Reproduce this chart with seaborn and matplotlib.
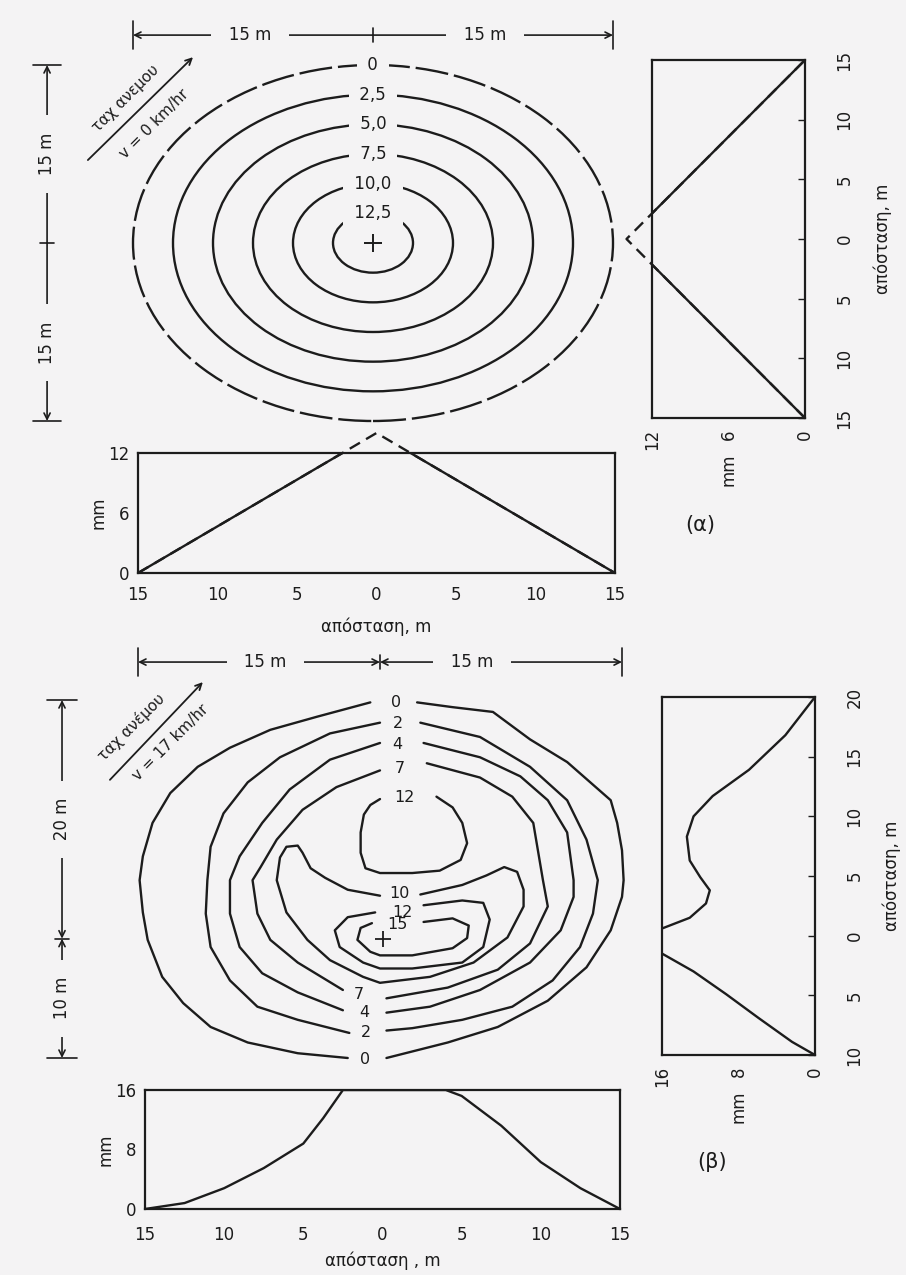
import numpy as np
import matplotlib
matplotlib.use("Agg")
import matplotlib.pyplot as plt
from matplotlib.patches import Circle
from matplotlib.transforms import blended_transform_factory as blend
import seaborn as sns

nan = np.nan

# ---------------- (α) wind speed v = 0 km/hr ----------------
a_ring_labels = ['0', '2,5', '5,0', '7,5', '10,0', '12,5']
a_ring_radius = [15, 12.5, 10, 7.5, 5, 2.5]          # m
a_prof_dist = [-15, 0, 15]                            # m
a_prof_mm = [0, 14, 0]                                # mm
a_dist_ticks = [-15, -10, -5, 0, 5, 10, 15]
a_dist_labels = ['15', '10', '5', '0', '5', '10', '15']
a_mm_ticks = [0, 6, 12]

# ---------------- (β) wind speed v = 17 km/hr ----------------
# contour lines (x, y in m), nan = gap at a label
b_c0_x = [2.3, 4.5, 7.0, 9.3, 11.6, 14.3, 14.7, 15.0, 15.1, 15.0, 14.3, 12.8, 10.4, 7.3, 4.2, 0.4, nan,
          -2.0, -5.1, -8.2, -10.5, -12.2, -13.5, -14.4, -14.7, -14.9, -14.7, -14.1, -13.0, -11.3, -9.3,
          -6.8, -3.9, -0.6]
b_c0_y = [19.8, 19.4, 19.0, 16.7, 14.8, 11.6, 9.7, 7.4, 4.9, 3.5, 0.7, -2.4, -5.2, -7.4, -8.7, -10.0, nan,
          -10.0, -9.6, -8.7, -7.4, -5.4, -3.2, -0.1, 2.2, 4.9, 6.9, 9.7, 12.2, 14.4, 16.0,
          17.5, 18.6, 19.8]
b_c2_x = [2.5, 6.2, 9.3, 11.6, 12.8, 13.5, 13.2, 12.4, 10.7, 8.2, 5.1, 2.0, 0.4, nan,
          -1.9, -5.1, -7.6, -9.3, -10.5, -10.8, -10.7, -10.5, -9.7, -8.2, -6.2, -3.1, 0.0]
b_c2_y = [18.1, 16.9, 14.4, 11.6, 8.3, 4.9, 2.1, -0.7, -3.5, -5.7, -6.8, -7.5, -7.7, nan,
          -7.9, -6.8, -5.7, -3.5, -0.7, 2.1, 4.9, 7.7, 10.5, 13.1, 15.2, 17.2, 18.1]
b_c4_x = [2.7, 6.2, 8.7, 10.4, 11.6, 12.0, 12.0, 11.2, 9.3, 6.2, 3.1, 0.4, nan,
          -2.3, -5.1, -7.3, -8.7, -9.3, -9.3, -8.7, -7.3, -5.6, -3.1, 0.0]
b_c4_y = [16.4, 15.2, 13.6, 11.6, 8.9, 4.9, 3.5, 0.7, -2.0, -4.3, -5.7, -6.2, nan,
          -6.0, -4.5, -2.9, -0.7, 2.1, 4.9, 6.9, 9.7, 12.5, 15.0, 16.4]
b_c7_x = [2.9, 6.2, 8.2, 9.5, 10.1, 10.4, 9.3, 7.3, 4.2, 0.4, nan,
          -2.3, -5.1, -6.8, -7.6, -7.9, -7.4, -6.4, -4.8, -2.7, 0.0]
b_c7_y = [14.7, 13.5, 11.9, 9.7, 4.9, 2.7, -0.4, -2.6, -4.1, -5.0, nan,
          -4.3, -2.0, -0.1, 2.1, 4.9, 6.0, 8.3, 10.8, 12.7, 14.1]
b_c10_x = [2.5, 5.1, 6.6, 7.7, 8.5, 8.9, 8.9, 7.9, 5.8, 3.1, 0.0, -1.05, -3.1, -4.5, -5.8, -6.4,
           -6.2, -5.8, -5.1, -4.8, -4.3, -3.4, -2.0, 0.0]
b_c10_y = [3.7, 4.5, 5.3, 6.0, 5.6, 4.1, 2.7, 0.1, -2.0, -3.2, -3.7, -3.2, -1.8, -0.1, 2.2, 4.9,
           6.8, 7.7, 7.8, 7.2, 5.9, 5.1, 4.1, 3.6]
b_c12u_x = [3.5, 4.5, 5.1, 5.4, 5.0, 3.7, 2.0, 0.0, -0.9, -1.2, -1.2, -1.0, -0.6, 0.0]
b_c12u_y = [11.9, 11.0, 9.7, 8.0, 6.6, 5.7, 5.5, 5.5, 5.9, 7.2, 8.9, 10.4, 11.2, 11.7]
b_c12l_x = [2.7, 5.1, 6.4, 6.8, 6.4, 5.1, 2.0, 0.0, -1.05, -2.5, -2.8, -2.0, -0.3]
b_c12l_y = [2.8, 3.2, 3.0, 1.6, -0.7, -2.0, -2.5, -2.5, -2.0, -0.7, 0.7, 1.8, 2.2]
b_c15_x = [2.7, 4.5, 5.5, 5.4, 4.5, 2.0, 0.0, -0.6, -1.4, -1.2, -0.5]
b_c15_y = [1.4, 1.7, 1.1, 0.05, -0.8, -1.4, -1.4, -1.1, -0.1, 0.9, 1.3]

b_lab_text = ['0', '2', '4', '7', '7', '4', '2', '0', '12', '10', '12', '15']
b_lab_x = [1.0, 1.1, 1.1, 1.2, -1.3, -1.0, -0.9, -0.9, 1.5, 1.2, 1.4, 1.1]
b_lab_y = [19.8, 18.0, 16.3, 14.3, -4.7, -6.2, -7.9, -10.1, 11.8, 3.8, 2.2, 1.15]

b_bot_dist = [-15, -12.5, -10, -7.5, -5, -3.75, -2.5, 4, 5, 6.5, 7.5, 10, 12.5, 15]
b_bot_mm = [0, 0.8, 2.8, 5.5, 8.8, 12.2, 16, 16, 15.2, 12.8, 11.2, 6.3, 2.8, 0]
b_side_up_dist = [20, 16.8, 13.9, 11.7, 10, 8.3, 6.3, 4.9, 3.8, 2.7, 1.5, 0.6]
b_side_up_mm = [0, 3.1, 6.9, 10.7, 12.7, 13.4, 13.1, 12.0, 11.0, 11.4, 13.1, 16]
b_side_lo_dist = [-1.5, -3.0, -4.9, -6.9, -8.9, -10]
b_side_lo_mm = [16, 12.7, 9.3, 5.9, 2.4, 0]
b_dist_ticks_x = [-15, -10, -5, 0, 5, 10, 15]
b_dist_ticks_y = [-10, -5, 0, 5, 10, 15, 20]
b_dist_labels_y = ['10', '5', '0', '5', '10', '15', '20']
b_mm_ticks = [0, 8, 16]

# ---------------- style ----------------
sns.set_theme(style="white")
plt.rcParams['font.family'] = ['DejaVu Sans']
BG = '#f4f3f4'
INK = '#1c1c1c'
LW = 1.7

fig = plt.figure(figsize=(9.06, 12.75), dpi=100, facecolor=BG)


def px_axes(x0, y0, x1, y1):
    ax = fig.add_axes([x0 / 906, 1 - y1 / 1275, (x1 - x0) / 906, (y1 - y0) / 1275])
    ax.set_facecolor('none')
    return ax


def style_box(ax):
    for s in ax.spines.values():
        s.set_visible(True)
        s.set_linewidth(1.6)
        s.set_color(INK)
    ax.tick_params(which='both', direction='in', color=INK, labelcolor=INK, labelsize=12, width=1)
    ax.tick_params(which='major', length=5)
    ax.tick_params(which='minor', length=4)


def dim_line(ax, horizontal, pos, ends, mid, label_at, labels, center_arrows, bar=0.04):
    if horizontal:
        tr = blend(ax.transData, ax.transAxes)
        P = lambda a, b: (a, b)
        rot = 0
    else:
        tr = blend(ax.transAxes, ax.transData)
        P = lambda a, b: (b, a)
        rot = 90
    style = '<->' if center_arrows else '->'
    for end in ends:
        ax.annotate('', xy=P(end, pos), xytext=P(mid, pos), xycoords=tr, textcoords=tr,
                    annotation_clip=False,
                    arrowprops=dict(arrowstyle=style, color=INK, lw=1.2, shrinkA=0, shrinkB=0,
                                    mutation_scale=11))
        a0, a1 = P(end, pos - bar), P(end, pos + bar)
        ax.plot([a0[0], a1[0]], [a0[1], a1[1]], color=INK, lw=1.2, transform=tr, clip_on=False)
    c0, c1 = P(mid, pos - bar * 0.5), P(mid, pos + bar * 0.5)
    ax.plot([c0[0], c1[0]], [c0[1], c1[1]], color=INK, lw=1.2, transform=tr, clip_on=False)
    for at, lab in zip(label_at, labels):
        ax.text(*P(at, pos), '   ' + lab + '   ', transform=tr, rotation=rot, ha='center',
                va='center', fontsize=12, color=INK, zorder=5,
                bbox=dict(boxstyle='square,pad=0.1', fc=BG, ec='none'))


def wind(ax, p0, p1, top_txt, top_at, bot_txt, bot_at):
    ax.annotate('', xy=p1, xytext=p0, xycoords='axes fraction', textcoords='axes fraction',
                annotation_clip=False,
                arrowprops=dict(arrowstyle='->', color=INK, lw=1.3, shrinkA=0, shrinkB=0,
                                mutation_scale=11))
    ax.text(*top_at, top_txt, transform=ax.transAxes, rotation=45, ha='center', va='center',
            fontsize=11, color=INK)
    ax.text(*bot_at, bot_txt, transform=ax.transAxes, rotation=45, ha='center', va='center',
            fontsize=11, color=INK)


# ================= (α) contour map =================
axA = px_axes(133, 65, 613, 421)
axA.set_xlim(-15, 15)
axA.set_ylim(-15, 15)
axA.axis('off')
for r, lab in zip(a_ring_radius, a_ring_labels):
    ls = (0, (14, 2.5)) if r == max(a_ring_radius) else '-'
    axA.add_patch(Circle((0, 0), r, fill=False, ec=INK, lw=LW, ls=ls, clip_on=False))
    axA.text(0, r, ' ' + lab + ' ', ha='center', va='center', fontsize=12, color=INK,
             bbox=dict(boxstyle='square,pad=0.35', fc=BG, ec='none'))
axA.plot([0], [0], marker='+', ms=13, mew=1.4, color=INK)
dim_line(axA, True, 1.084, [-15, 15], 0, [-7.7, 7.0], ['15 m', '15 m'], False)
dim_line(axA, False, -0.179, [15, -15], 0, [7.5, -8.4], ['15 m', '15 m'], False, bar=0.03)
wind(axA, (-0.094, 0.733), (0.125, 1.022), 'ταχ ανεμου', (-0.015, 0.905),
     'v = 0 km/hr', (0.045, 0.835))

# (α) profile below
axAb = px_axes(138, 453, 615, 573)
axAb.plot(a_prof_dist, a_prof_mm, ls=(0, (5, 3)), color=INK, lw=LW, clip_on=False, zorder=1)
sns.lineplot(x=a_prof_dist, y=a_prof_mm, sort=False, estimator=None, ax=axAb, color=INK, lw=LW, zorder=3)
axAb.set_xlim(-15, 15)
axAb.set_ylim(0, 12)
style_box(axAb)
axAb.set_xticks(a_dist_ticks)
axAb.set_xticklabels(a_dist_labels)
axAb.set_yticks(a_mm_ticks)
axAb.set_yticks([3, 9], minor=True)
axAb.tick_params(axis='x', pad=9)
axAb.tick_params(axis='y', pad=6)
axAb.set_xlabel('απόσταση, m', fontsize=12, color=INK, labelpad=10)
axAb.set_ylabel('mm', fontsize=12, color=INK, labelpad=1)

# (α) profile at the side (rotated)
axAr = px_axes(652, 60, 805, 418)
axAr.plot(a_prof_mm, a_prof_dist, ls=(0, (5, 3)), color=INK, lw=LW, clip_on=False, zorder=1)
sns.lineplot(x=a_prof_mm, y=a_prof_dist, sort=False, estimator=None, ax=axAr, color=INK, lw=LW, zorder=3)
axAr.set_xlim(12, 0)
axAr.set_ylim(-15, 15)
style_box(axAr)
axAr.yaxis.tick_right()
axAr.yaxis.set_label_position('right')
axAr.set_yticks(a_dist_ticks)
axAr.set_yticklabels(a_dist_labels, rotation=90, va='center')
axAr.set_xticks(a_mm_ticks)
axAr.set_xticklabels([str(t) for t in a_mm_ticks], rotation=90)
axAr.set_xticks([3, 9], minor=True)
axAr.tick_params(axis='y', pad=22)
axAr.tick_params(axis='x', pad=8)
axAr.set_xlabel('mm', fontsize=12, color=INK, rotation=90, labelpad=2)
axAr.set_ylabel('απόσταση, m', fontsize=12, color=INK, rotation=90, labelpad=14)

fig.text(700 / 906, 1 - 525 / 1275, '(α)', fontsize=15, ha='center', va='center', color=INK)

# ================= (β) contour map =================
axB = px_axes(138, 700, 622, 1058)
axB.set_xlim(-15, 15)
axB.set_ylim(-10, 20)
axB.axis('off')
for xs, ys in [(b_c0_x, b_c0_y), (b_c2_x, b_c2_y), (b_c4_x, b_c4_y), (b_c7_x, b_c7_y),
               (b_c10_x, b_c10_y), (b_c12u_x, b_c12u_y), (b_c12l_x, b_c12l_y), (b_c15_x, b_c15_y)]:
    axB.plot(xs, ys, color=INK, lw=LW, clip_on=False, solid_joinstyle='round')
for t, x, y in zip(b_lab_text, b_lab_x, b_lab_y):
    axB.text(x, y, t, ha='center', va='center', fontsize=11.5, color=INK)
axB.plot([0.2], [0], marker='+', ms=11, mew=1.3, color=INK)
dim_line(axB, True, 1.106, [-15, 15], 0, [-7.1, 5.7], ['15 m', '15 m'], True)
dim_line(axB, False, -0.157, [20, -10], 0, [10, -5], ['20 m', '10 m'], True, bar=0.03)
wind(axB, (-0.058, 0.777), (0.134, 1.050), 'ταχ ανέμου', (-0.014, 0.925),
     'v = 17 km/hr', (0.068, 0.880))

# (β) profile below
axBb = px_axes(145, 1090, 620, 1209)
sns.lineplot(x=b_bot_dist, y=b_bot_mm, sort=False, estimator=None, ax=axBb, color=INK, lw=LW)
axBb.set_xlim(-15, 15)
axBb.set_ylim(0, 16)
style_box(axBb)
axBb.set_xticks(b_dist_ticks_x)
axBb.set_xticklabels(a_dist_labels)
axBb.set_yticks(b_mm_ticks)
axBb.set_yticks([4, 12], minor=True)
axBb.tick_params(axis='x', pad=12)
axBb.tick_params(axis='y', pad=6)
axBb.set_xlabel('απόσταση , m', fontsize=12, color=INK, labelpad=6)
axBb.set_ylabel('mm', fontsize=12, color=INK, labelpad=1)

# (β) profile at the side (rotated)
axBr = px_axes(662, 697, 815, 1055)
sns.lineplot(x=b_side_up_mm, y=b_side_up_dist, sort=False, estimator=None, ax=axBr, color=INK, lw=LW)
sns.lineplot(x=b_side_lo_mm, y=b_side_lo_dist, sort=False, estimator=None, ax=axBr, color=INK, lw=LW)
axBr.set_xlim(16, 0)
axBr.set_ylim(-10, 20)
style_box(axBr)
axBr.yaxis.tick_right()
axBr.yaxis.set_label_position('right')
axBr.set_yticks(b_dist_ticks_y)
axBr.set_yticklabels(b_dist_labels_y, rotation=90, va='center')
axBr.set_xticks(b_mm_ticks)
axBr.set_xticklabels([str(t) for t in b_mm_ticks], rotation=90)
axBr.set_xticks([4, 12], minor=True)
axBr.tick_params(axis='y', pad=22)
axBr.tick_params(axis='x', pad=8)
axBr.set_xlabel('mm', fontsize=12, color=INK, rotation=90, labelpad=2)
axBr.set_ylabel('απόσταση, m', fontsize=12, color=INK, rotation=90, labelpad=14)

fig.text(712 / 906, 1 - 1162 / 1275, '(β)', fontsize=15, ha='center', va='center', color=INK)

fig.savefig('out.png', dpi=100, facecolor=BG)
